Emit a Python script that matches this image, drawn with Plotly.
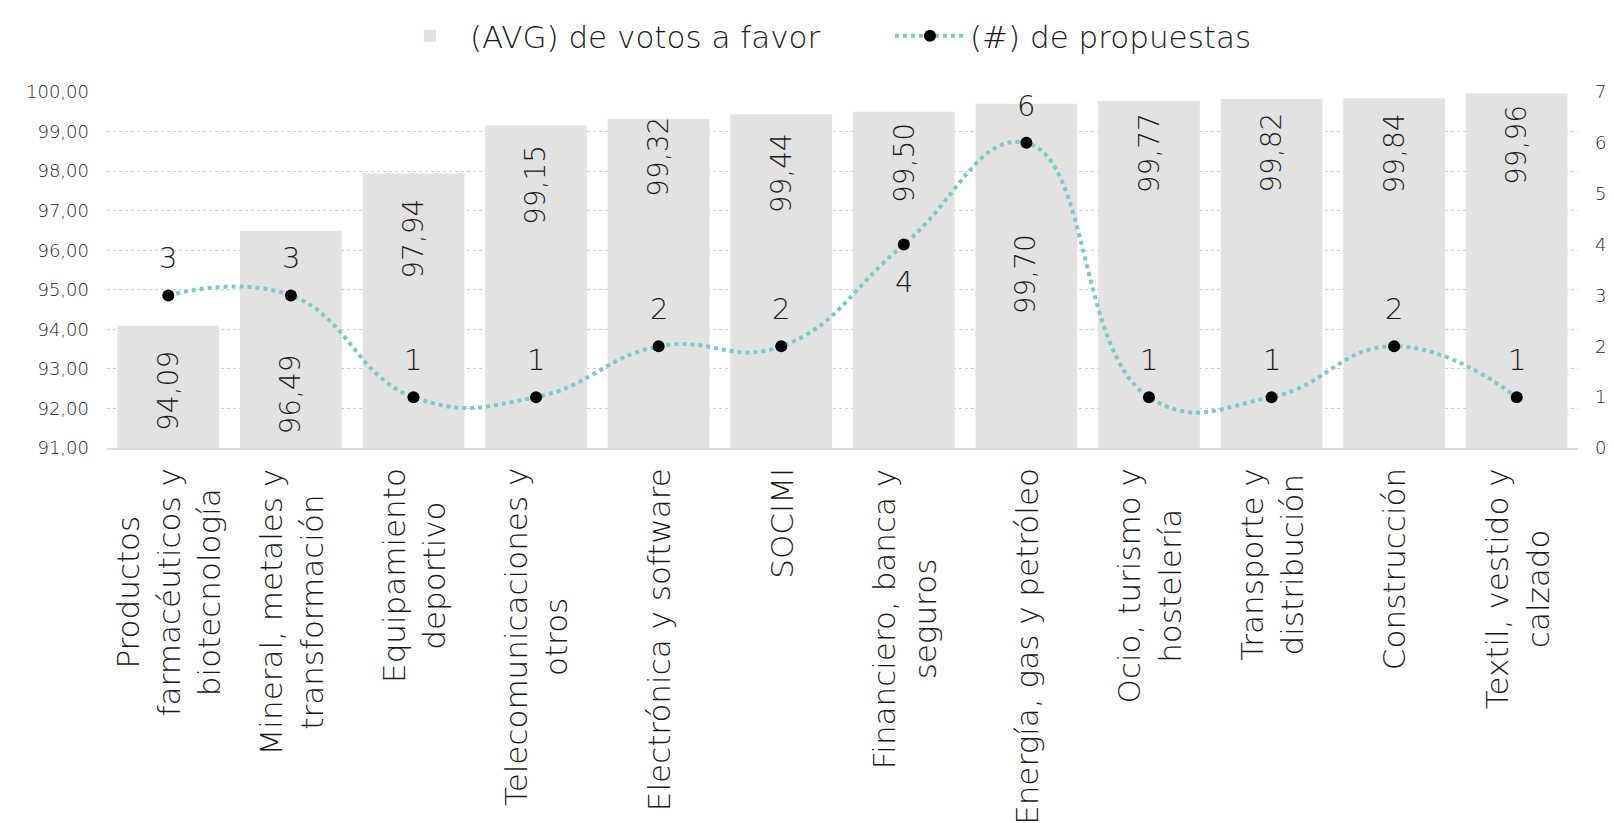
import plotly.graph_objects as go

categories = [
    "Productos<br>farmacéuticos y<br>biotecnología",
    "Mineral, metales y<br>transformación",
    "Equipamiento<br>deportivo",
    "Telecomunicaciones y<br>otros",
    "Electrónica y software",
    "SOCIMI",
    "Financiero, banca y<br>seguros",
    "Energía, gas y petróleo",
    "Ocio, turismo y<br>hostelería",
    "Transporte y<br>distribución",
    "Construcción",
    "Textil, vestido y<br>calzado",
]
avg_votos = [94.09, 96.49, 97.94, 99.15, 99.32, 99.44, 99.50, 99.70, 99.77, 99.82, 99.84, 99.96]
num_propuestas = [3, 3, 1, 1, 2, 2, 4, 6, 1, 1, 2, 1]

# label placement (centre of rotated bar labels, in left-axis units)
bar_label_y = [92.45, 92.35, 96.3, 97.65, 98.35, 97.95, 98.2, 95.4, 98.45, 98.45, 98.45, 98.65]
# +1 = label above the point, -1 = below
point_label_side = [1, 1, 1, 1, 1, 1, -1, 1, 1, 1, 1, 1]

FONT = "DejaVu Sans"
WEIGHT = 200
TXT = "#262626"
DARK = "#1a1a1a"
xs = list(range(len(categories)))

fig = go.Figure()
fig.add_trace(go.Bar(
    x=xs, y=[v - 91 for v in avg_votos], base=91,
    name="(AVG) de votos a favor",
    marker=dict(color="#E2E2E2", line=dict(width=0)),
    hoverinfo="skip",
))
fig.add_trace(go.Scatter(
    x=xs, y=num_propuestas, yaxis="y2",
    name="(#) de propuestas",
    mode="lines+markers",
    line=dict(color="#7CC8CB", width=4, dash="dot", shape="spline", smoothing=1.3),
    marker=dict(color="black", size=12),
    cliponaxis=False,
    hoverinfo="skip",
))

annotations = []
for i, (v, ly) in enumerate(zip(avg_votos, bar_label_y)):
    annotations.append(dict(
        x=xs[i], y=ly, xref="x", yref="y",
        text=f"{v:.2f}".replace(".", ","),
        textangle=-90, showarrow=False,
        font=dict(family=FONT, size=28, color=DARK, weight=WEIGHT),
        xanchor="center", yanchor="middle",
    ))
for i, (n, side) in enumerate(zip(num_propuestas, point_label_side)):
    annotations.append(dict(
        x=xs[i], y=n, xref="x", yref="y2",
        text=str(n), showarrow=False,
        font=dict(family=FONT, size=29, color=DARK, weight=WEIGHT),
        xanchor="center", yanchor="middle", yshift=37 * side,
    ))
for i, c in enumerate(categories):
    annotations.append(dict(
        x=xs[i], y=0, xref="x", yref="paper",
        text=c, textangle=-90, showarrow=False, align="center",
        font=dict(family=FONT, size=31, color=DARK, weight=WEIGHT),
        xanchor="center", yanchor="top", yshift=-18,
    ))

fig.update_layout(
    width=1614, height=823,
    margin=dict(l=107, r=36, t=92, b=375, autoexpand=False),
    paper_bgcolor="white", plot_bgcolor="white",
    separators=",.",
    bargap=0.17,
    showlegend=True,
    hovermode=False,
    legend=dict(
        orientation="h", xref="container", x=0.2416, xanchor="left",
        yref="container", y=0.956, yanchor="middle",
        font=dict(family=FONT, size=31, color=DARK, weight=WEIGHT),
        itemwidth=70, entrywidth=415, entrywidthmode="pixels",
    ),
    xaxis=dict(
        range=[-0.5, 11.5], showticklabels=False, showgrid=False,
        showline=True, linecolor="#D9D9D9", linewidth=2, zeroline=False,
        tickvals=xs, automargin=False,
    ),
    yaxis=dict(
        range=[91, 100], dtick=1, tickformat=".2f",
        showgrid=True, gridcolor="#D0D0D0", griddash="dot", gridwidth=1,
        zeroline=False, showline=False, automargin=False,
        tickfont=dict(family=FONT, size=18, color=TXT, weight=WEIGHT),
        ticklabelstandoff=17,
    ),
    yaxis2=dict(
        range=[0, 7], dtick=1, overlaying="y", side="right",
        showgrid=False, zeroline=False, showline=False, automargin=False,
        tickfont=dict(family=FONT, size=18, color=TXT, weight=WEIGHT),
        ticklabelstandoff=16,
    ),
    annotations=annotations,
)

fig.write_html(
    "out.html",
    config={"displayModeBar": False},
    post_script="document.body.style.margin='0px';document.body.style.overflow='hidden';",
)
